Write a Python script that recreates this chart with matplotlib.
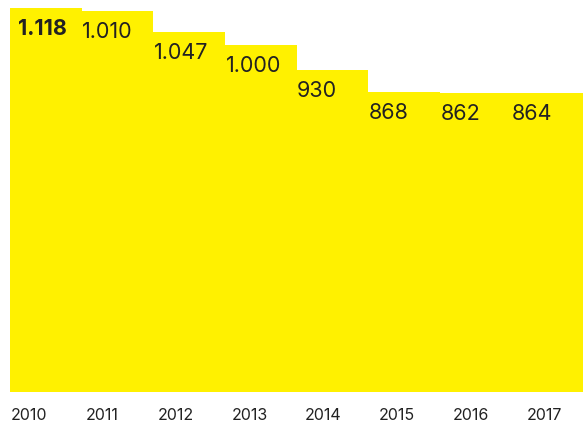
import matplotlib
matplotlib.use("Agg")
import matplotlib.pyplot as plt

years = ["2010", "2011", "2012", "2013", "2014", "2015", "2016", "2017"]
value_labels = ["1.118", "1.010", "1.047", "1.000", "930", "868", "862", "864"]
bar_heights = [1118, 1109, 1048, 1011, 938, 874, 870, 871]

YELLOW = "#FFF100"
TEXT = "#222222"

W, H = 583, 421
fig = plt.figure(figsize=(W / 100, H / 100), dpi=100)
ax = fig.add_axes([10 / W, 29 / H, 573 / W, 384 / H])
ax.bar(range(len(years)), bar_heights, width=1.0, align="edge", color=YELLOW,
       edgecolor="none")
ax.set_xlim(0, len(years))
ax.set_ylim(0, bar_heights[0])
ax.axis("off")

for i, (lab, h) in enumerate(zip(value_labels, bar_heights)):
    bold = i == 0
    ax.annotate(lab, xy=(i, h), xytext=(5.8 if bold else 0.5, -19.5),
                textcoords="offset points", ha="left", va="baseline",
                fontsize=15.5, family="Inter",
                fontweight="bold" if bold else "normal", color=TEXT,
                annotation_clip=False)

for i, y in enumerate(years):
    fig.text((28.5 + 73.7 * i) / W, 1 - 419.5 / H, y, ha="center", va="baseline",
             fontsize=11.5, family="Inter", color=TEXT)

fig.savefig("out.png", dpi=100)
